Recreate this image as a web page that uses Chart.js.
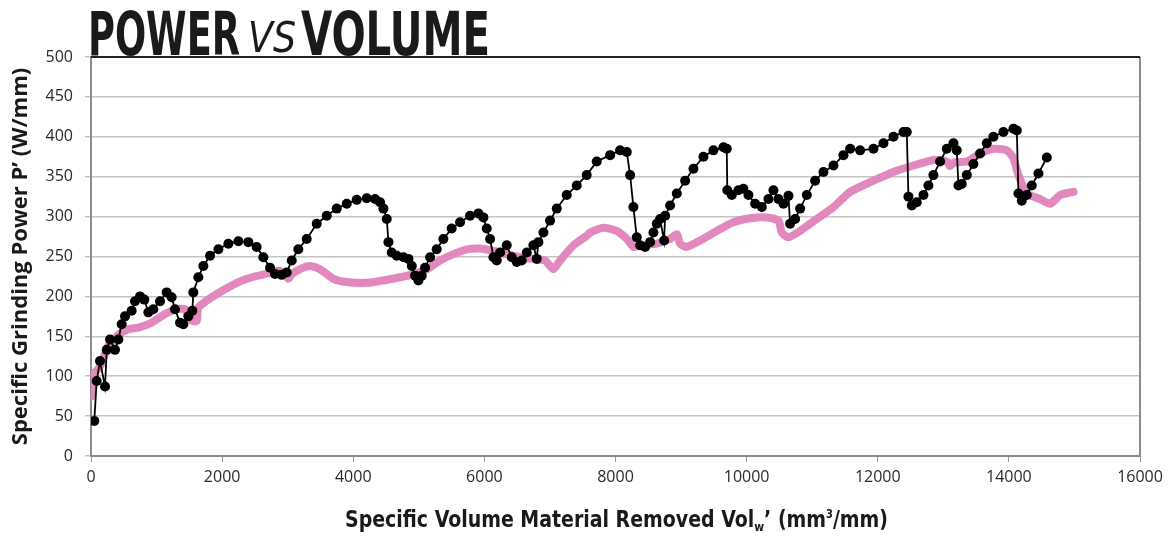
<!DOCTYPE html>
<html lang="en">
<head>
<meta charset="UTF-8">
<title>Power vs Volume</title>
<script src="https://cdn.jsdelivr.net/npm/chart.js"></script>
<style>
  html, body { margin: 0; padding: 0; background: #fff; overflow: hidden; }
  #wrap { position: relative; width: 1171px; height: 537px; }
  #chartBox { position: absolute; left: 0; top: 0; width: 1171px; height: 537px; }
  .word {
    position: absolute;
    white-space: nowrap;
    transform-origin: 0 0;
    color: #1a1a1a;
    line-height: 1;
  }
  .big { font-family: "Liberation Sans Narrow", "DejaVu Sans Condensed", "Liberation Sans", sans-serif; font-weight: bold; font-size: 60px; }
  .vs { font-family: "Liberation Sans Narrow", "DejaVu Sans Condensed", "Liberation Sans", sans-serif; font-style: italic; font-weight: normal; font-size: 42px; }
  #xTitle {
    font-family: "Liberation Sans Narrow", "DejaVu Sans Condensed", "Liberation Sans", sans-serif;
    font-weight: bold; font-size: 23px; color: #1a1a1a;
  }
  #xTitle sub { font-size: 13px; vertical-align: -4px; }
  #xTitle sup { font-size: 12px; vertical-align: 9px; }
</style>
</head>
<body>
<div id="wrap">
  <div id="chartBox"><canvas id="myChart" width="1171" height="537"></canvas></div>
  <div class="word big" id="w1" data-x="88" data-y="4" data-w="152">POWER</div>
  <div class="word vs" id="w2" data-x="248" data-y="17" data-w="48">VS</div>
  <div class="word big" id="w3" data-x="301" data-y="4" data-w="189">VOLUME</div>
  <div class="word" id="xTitle" data-x="345" data-y="508" data-w="543">Specific Volume Material Removed Vol<sub>w</sub>’ (mm<sup>3</sup>/mm)</div>
</div>
<script>
  // Specific volume removed (mm3/mm) and power (W/mm)
  const blackX = [50, 87, 137, 214, 240, 290, 366, 417, 468, 519, 620, 671, 748, 813, 875, 951, 1053, 1154, 1230, 1281,
    1358, 1408, 1485, 1546, 1561, 1637, 1714, 1816, 1943, 2095, 2248, 2400, 2527, 2629, 2731, 2807, 2909, 2985, 3062, 3162,
    3290, 3443, 3596, 3748, 3901, 4053, 4206, 4333, 4409, 4460, 4511, 4537, 4587, 4664, 4766, 4842, 4893, 4943, 4994, 5045,
    5095, 5172, 5273, 5375, 5501, 5629, 5782, 5909, 5985, 6036, 6087, 6138, 6189, 6240, 6341, 6418, 6494, 6570, 6647, 6748,
    6799, 6824, 6901, 7002, 7104, 7256, 7409, 7561, 7714, 7918, 8070, 8172, 8223, 8273, 8324, 8375, 8451, 8528, 8578, 8629,
    8680, 8741, 8757, 8833, 8935, 9062, 9189, 9341, 9494, 9646, 9697, 9705, 9774, 9875, 9951, 10028, 10130, 10232, 10333, 10409,
    10485, 10562, 10638, 10663, 10740, 10816, 10918, 11045, 11172, 11325, 11477, 11579, 11731, 11935, 12087, 12240, 12392, 12443, 12468, 12519,
    12595, 12697, 12773, 12849, 12951, 13053, 13154, 13205, 13231, 13281, 13358, 13459, 13561, 13663, 13764, 13917, 14070, 14121, 14146, 14197,
    14273, 14349, 14451, 14579];
  const blackY = [44, 94, 119, 87, 133, 146, 133, 146, 165, 175, 182, 194, 200, 196, 180, 184, 194, 205, 199, 184,
    167, 165, 175, 182, 205, 224, 238, 251, 259, 266, 269, 268, 262, 249, 236, 228, 227, 230, 245, 259,
    272, 291, 301, 310, 316, 321, 323, 322, 318, 310, 297, 268, 255, 251, 249, 247, 238, 226, 220, 226,
    236, 249, 259, 272, 285, 293, 301, 304, 299, 285, 272, 249, 245, 255, 264, 249, 243, 245, 255, 264,
    247, 268, 280, 295, 310, 327, 339, 352, 369, 377, 383, 381, 352, 312, 274, 264, 262, 268, 280, 291,
    297, 270, 301, 314, 329, 345, 360, 375, 383, 387, 385, 333, 327, 333, 335, 327, 316, 312, 322, 333,
    322, 316, 326, 291, 297, 310, 327, 345, 356, 364, 377, 385, 383, 385, 392, 400, 406, 406, 325, 314,
    318, 327, 339, 352, 369, 385, 392, 383, 339, 341, 352, 366, 379, 392, 400, 406, 410, 408, 329, 320,
    327, 339, 354, 374];

  const pinkX = [10, 35, 137, 264, 417, 569, 722, 925, 1129, 1307, 1434, 1530, 1612, 1637, 1841, 2044, 2248, 2451, 2654, 2858,
    2960, 3010, 3062, 3239, 3341, 3494, 3697, 3901, 4206, 4460, 4714, 4918, 5121, 5324, 5528, 5731, 5934, 6138, 6341, 6545,
    6748, 6926, 7053, 7155, 7358, 7562, 7612, 7816, 8019, 8172, 8273, 8426, 8629, 8833, 8935, 8986, 9087, 9291, 9545, 9799,
    10053, 10308, 10486, 10536, 10638, 10816, 11070, 11325, 11579, 11935, 12240, 12545, 12849, 13053, 13104, 13160, 13358, 13561, 13764, 13968,
    14070, 14146, 14273, 14476, 14629, 14782, 14986];
  const pinkY = [75, 102, 112, 138, 152, 159, 161, 167, 178, 184, 184, 170, 169, 186, 199, 209, 218, 224, 228, 232,
    229, 222, 228, 236, 238, 234, 222, 218, 217, 220, 224, 228, 234, 245, 253, 259, 260, 257, 253, 249,
    247, 245, 234, 245, 264, 276, 280, 286, 282, 272, 262, 264, 266, 272, 278, 266, 262, 270, 282, 293,
    298, 299, 295, 280, 274, 282, 297, 312, 331, 345, 356, 364, 371, 369, 363, 368, 369, 379, 385, 383,
    373, 352, 329, 322, 316, 327, 331];

  const xTicks = [0, 2000, 4000, 6000, 8000, 10000, 12000, 14000, 16000];
  const yTicks = [0, 50, 100, 150, 200, 250, 300, 350, 400, 450, 500];

  const toPoints = (xs, ys) => xs.map((x, i) => ({ x: x, y: ys[i] }));

  // squeeze the html labels to the widths they have in the picture
  document.querySelectorAll('.word').forEach(el => {
    el.style.left = el.dataset.x + 'px';
    el.style.top = el.dataset.y + 'px';
    const w = el.getBoundingClientRect().width;
    el.style.transform = 'scaleX(' + (parseFloat(el.dataset.w) / w) + ')';
  });

  // frame: grey right edge, dark top edge
  const framePlugin = {
    id: 'frame',
    afterDraw(chart) {
      const a = chart.chartArea, ctx = chart.ctx;
      ctx.save();
      ctx.strokeStyle = '#8c8c8c';
      ctx.lineWidth = 2;
      ctx.beginPath();
      ctx.moveTo(a.right, a.top);
      ctx.lineTo(a.right, a.bottom);
      ctx.stroke();
      ctx.strokeStyle = '#222';
      ctx.lineWidth = 2;
      ctx.beginPath();
      ctx.moveTo(a.left, a.top);
      ctx.lineTo(a.right, a.top);
      ctx.stroke();
      ctx.restore();
    }
  };

  const tickFont = { family: '"Open Sans", "Noto Sans", sans-serif', size: 16 };

  const ctx = document.getElementById('myChart').getContext('2d');
  const chart = new Chart(ctx, {
    type: 'line',
    data: {
      datasets: [
        {
          label: 'Series 2',
          data: toPoints(blackX, blackY),
          borderColor: '#000',
          backgroundColor: '#000',
          borderWidth: 1.8,
          pointRadius: 5,
          pointHoverRadius: 5,
          pointBorderWidth: 0,
          tension: 0,
          order: 0
        },
        {
          label: 'Series 1',
          data: toPoints(pinkX, pinkY),
          borderColor: '#e288bd',
          backgroundColor: '#e288bd',
          borderWidth: 8,
          pointRadius: 0,
          tension: 0.2,
          borderCapStyle: 'round',
          borderJoinStyle: 'round',
          order: 1
        }
      ]
    },
    options: {
      responsive: false,
      animation: false,
      layout: { padding: { top: 57, right: 31, left: 0, bottom: 0 } },
      plugins: {
        legend: { display: false },
        tooltip: { enabled: false }
      },
      scales: {
        x: {
          type: 'linear',
          min: 0,
          max: 16000,
          afterBuildTicks: scale => { scale.ticks = xTicks.map(v => ({ value: v })); },
          afterFit: scale => { scale.height = 81; },
          grid: { drawOnChartArea: false, drawTicks: true, tickLength: 6, color: '#999', lineWidth: 1 },
          border: { display: true, color: '#8c8c8c', width: 2 },
          ticks: { font: tickFont, color: '#2a2a2a', padding: 6, maxRotation: 0, callback: v => String(v) }
        },
        y: {
          min: 0,
          max: 500,
          afterBuildTicks: scale => { scale.ticks = yTicks.map(v => ({ value: v })); },
          afterFit: scale => { scale.width = 91; },
          grid: { color: '#c4c4c4', lineWidth: 1.5, tickLength: 6 },
          border: { display: true, color: '#8c8c8c', width: 2 },
          ticks: { font: tickFont, color: '#2a2a2a', padding: 12 },
          title: {
            display: true,
            text: 'Specific Grinding Power P’ (W/mm)',
            font: { family: '"Open Sans", "Noto Sans", sans-serif', size: 22, weight: 'bold' },
            color: '#1a1a1a',
            padding: { top: 8, bottom: 0 }
          }
        }
      }
    },
    plugins: [framePlugin]
  });
</script>
</body>
</html>
